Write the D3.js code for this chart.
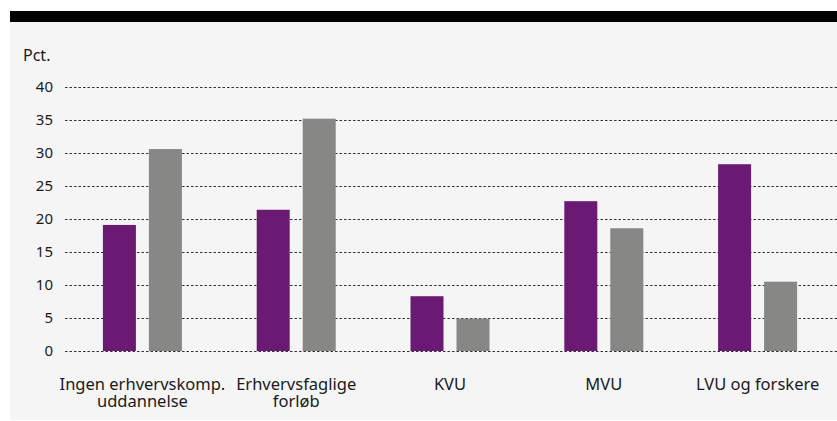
<!DOCTYPE html>
<html>
<head>
<meta charset="utf-8">
<script src="https://cdn.jsdelivr.net/npm/d3@7"></script>
<style>
html,body{margin:0;padding:0;background:#ffffff;}
svg{display:block;font-family:"Noto Sans",sans-serif;}
</style>
</head>
<body>
<svg id="chart" width="837" height="421"></svg>
<script>
const categories = [["Ingen erhvervskomp.","uddannelse"],["Erhvervsfaglige","forløb"],["KVU"],["MVU"],["LVU og forskere"]];
const seriesA = [19.1, 21.4, 8.3, 22.7, 28.3];
const seriesB = [30.6, 35.2, 4.9, 18.6, 10.5];
const yTicks = [0, 5, 10, 15, 20, 25, 30, 35, 40];
const yLabel = "Pct.";
const colors = ["#6a1a72", "#878786"];

const svg = d3.select("#chart");
svg.append("rect").attr("x",10).attr("y",21).attr("width",827).attr("height",399).attr("fill","#f5f5f5");
svg.append("rect").attr("x",10).attr("y",11).attr("width",827).attr("height",11).attr("fill","#000");

const y = d3.scaleLinear().domain([0,40]).range([351,87]);
const x0 = d3.scaleBand().domain(d3.range(categories.length)).range([65.5,834.5]).paddingInner(0).paddingOuter(0);
const x1 = d3.scaleBand().domain([0,1]).range([-39.5,39.5]).paddingInner(13/46).paddingOuter(0);

// grid
const gAxis = svg.append("g");
const yAxis = d3.axisLeft(y).tickValues(yTicks).tickSize(0).tickPadding(0);
gAxis.attr("transform","translate(53,0)").call(yAxis);
gAxis.select(".domain").remove();
gAxis.selectAll("text").attr("font-size",15).attr("fill","#1a1a1a").attr("font-family","Noto Sans").attr("dy","0.28em");

svg.append("g").selectAll("line").data(yTicks).join("line")
  .attr("x1",65).attr("x2",837).attr("y1",d=>y(d)+0.5).attr("y2",d=>y(d)+0.5)
  .attr("stroke","#333").attr("stroke-width",1).attr("stroke-dasharray","2.5,2");

svg.append("text").attr("x",23).attr("y",61).attr("font-size",16).attr("fill","#1a1a1a").text(yLabel);

// bars
const groups = svg.append("g").selectAll("g").data(categories.map((c,i)=>i)).join("g")
  .attr("transform",i=>`translate(${x0(i)+x0.bandwidth()/2},0)`);
groups.selectAll("rect").data(i=>[seriesA[i],seriesB[i]]).join("rect")
  .attr("x",(d,j)=>x1(j)).attr("width",x1.bandwidth())
  .attr("y",d=>y(d)).attr("height",d=>y(0)-y(d))
  .attr("fill",(d,j)=>colors[j]);

// category labels
const lab = svg.append("g").selectAll("text").data(categories).join("text")
  .attr("x",(d,i)=>x0(i)+x0.bandwidth()/2).attr("y",390)
  .attr("text-anchor","middle").attr("font-size",16.5).attr("fill","#1a1a1a");
lab.selectAll("tspan").data(d=>d).join("tspan")
  .attr("x",function(){return this.parentNode.getAttribute("x");})
  .attr("dy",(d,i)=>i===0?0:"1.05em").text(d=>d);
</script>
</body>
</html>
